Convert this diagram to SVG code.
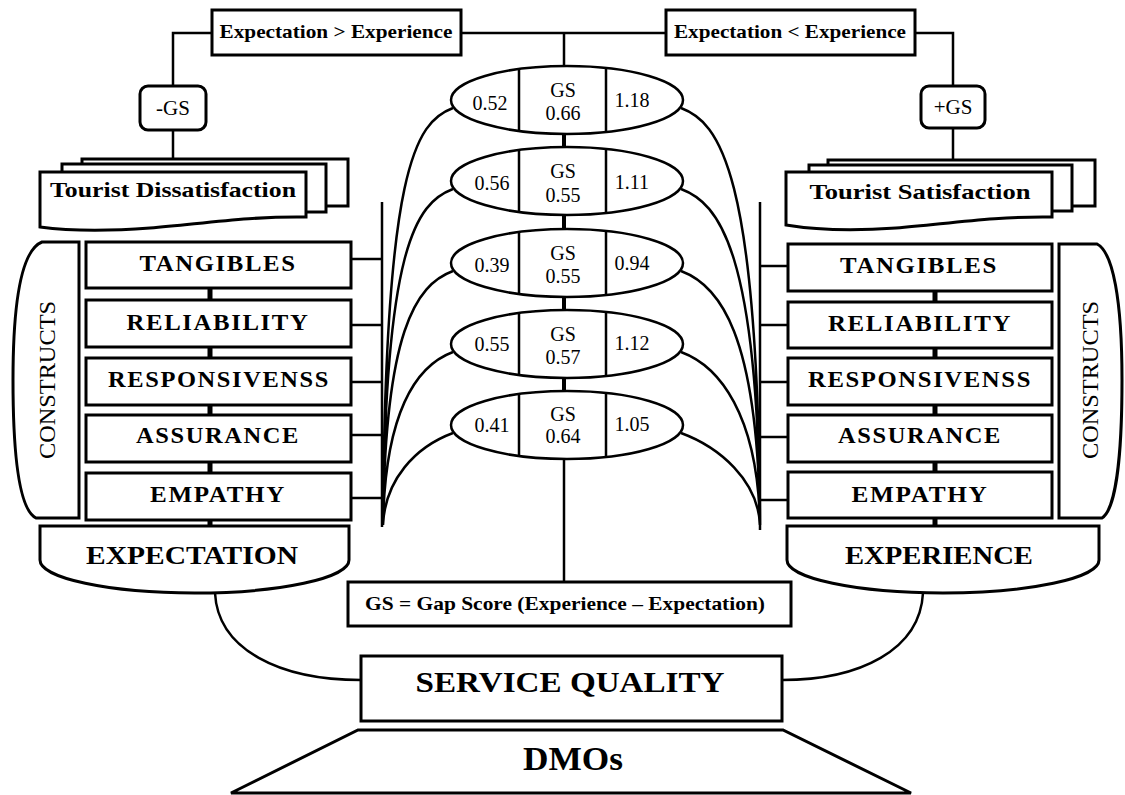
<svg xmlns="http://www.w3.org/2000/svg" width="1125" height="795" viewBox="0 0 1125 795">
<style>
.bx{fill:#fff;stroke:#000;stroke-width:3}
.ln{fill:none;stroke:#000;stroke-width:2.5}
.th{fill:none;stroke:#000;stroke-width:5}
.t{font-family:"Liberation Serif","Times New Roman",serif;fill:#000;text-anchor:middle}
.b{font-weight:bold}
.c{font-size:23px;font-weight:bold;letter-spacing:1.5px}
.e{font-size:20px}
</style>
<rect x="0" y="0" width="1125" height="795" fill="#fff"/>
<g id="connectors">
<path class="ln" d="M461,33 H666 M564,33 V66"/>
<path class="ln" d="M212,33 H173 V86 M173,130 V159"/>
<path class="ln" d="M915,33 H953 V86 M953,128 V160"/>
<path class="th" d="M564,134 V147 M564,215 V229 M564,297 V310 M564,378 V391" style="stroke-width:4"/>
<path class="ln" d="M564,459 V582"/>
<path class="ln" d="M382,202 V527 M760,202 V530"/>
<path class="ln" d="M351,259 H382 M351,325 H382 M351,382 H382 M351,435 H382 M351,498 H382"/>
<path class="ln" d="M760,266 H788 M760,325 H788 M760,382 H788 M760,437 H788 M760,500 H788"/>
<path class="ln" d="M453,108 C415,122 385,170 383,525 M453,189 C415,203 385,251 383,525 M453,271 C415,285 385,333 383,525 M453,352 C415,366 385,414 383,525 M453,433 C415,447 385,480 383,525"/>
<path class="ln" d="M681,108 C719,122 758,170 760,525 M681,189 C719,203 758,251 760,525 M681,271 C719,285 758,333 760,525 M681,352 C719,366 758,414 760,525 M681,433 C719,447 758,480 760,525"/>
<path class="th" d="M210,288 V300 M210,347 V358 M210,405 V415 M210,462 V473 M210,520 V526"/>
<path class="th" d="M935,291 V302 M935,348 V358 M935,405 V415 M935,462 V472 M935,518 V526"/>
<path class="ln" d="M215,593 C218,650 280,680 361,680"/>
<path class="ln" d="M923,593 C920,650 860,680 782,680"/>
</g>
<g id="exp-gt">
<rect class="bx" x="212" y="10" width="249" height="45"/>
<text class="t b" x="336" y="38" font-size="19" textLength="233" lengthAdjust="spacingAndGlyphs">Expectation &gt; Experience</text>
</g>
<g id="exp-lt">
<rect class="bx" x="666" y="10" width="249" height="45"/>
<text class="t b" x="790" y="38" font-size="19" textLength="232" lengthAdjust="spacingAndGlyphs">Expectation &lt; Experience</text>
</g>
<g id="neg-gs">
<rect class="bx" x="140" y="86" width="66" height="44" rx="8"/>
<text class="t" x="173" y="115" font-size="21">-GS</text>
</g>
<g id="pos-gs">
<rect class="bx" x="921" y="86" width="64" height="42" rx="8"/>
<text class="t" x="953" y="114" font-size="21">+GS</text>
</g>
<g id="dissatisfaction">
<rect class="bx" x="82" y="159" width="266" height="47"/>
<rect class="bx" x="62" y="164" width="264" height="48"/>
<path class="bx" d="M40,172 H306 V217 C250,216 200,224 150,228 C110,231 70,231 40,227 Z"/>
<text class="t b" x="173" y="197" font-size="22" textLength="246" lengthAdjust="spacingAndGlyphs">Tourist Dissatisfaction</text>
</g>
<g id="satisfaction">
<rect class="bx" x="828" y="160" width="267" height="46"/>
<rect class="bx" x="809" y="165" width="263" height="46"/>
<path class="bx" d="M786,172 H1052 V217 C996,216 946,224 896,228 C856,231 816,230 786,225 Z"/>
<text class="t b" x="920" y="199" font-size="22" textLength="221" lengthAdjust="spacingAndGlyphs">Tourist Satisfaction</text>
</g>
<g id="constructs-left">
<path class="bx" d="M79,242 H42 C22,250 13,300 13,380 C13,460 20,510 36,518 H79 Z"/>
<text class="t" transform="translate(55,380) rotate(-90)" font-size="23" textLength="158" lengthAdjust="spacingAndGlyphs">CONSTRUCTS</text>
</g>
<g id="constructs-right">
<path class="bx" d="M1059,244 H1097 C1113,252 1122,300 1122,380 C1122,460 1115,510 1102,518 H1059 Z"/>
<text class="t" transform="translate(1098,380) rotate(-90)" font-size="23" textLength="158" lengthAdjust="spacingAndGlyphs">CONSTRUCTS</text>
</g>
<g id="l-tangibles"><rect class="bx" x="86" y="242" width="265" height="46"/><text class="t c" x="218" y="271" textLength="157" lengthAdjust="spacingAndGlyphs">TANGIBLES</text></g>
<g id="l-reliability"><rect class="bx" x="86" y="300" width="265" height="47"/><text class="t c" x="218" y="330" textLength="183" lengthAdjust="spacingAndGlyphs">RELIABILITY</text></g>
<g id="l-responsiveness"><rect class="bx" x="86" y="358" width="265" height="47"/><text class="t c" x="219" y="387" textLength="222" lengthAdjust="spacingAndGlyphs">RESPONSIVENSS</text></g>
<g id="l-assurance"><rect class="bx" x="86" y="415" width="265" height="47"/><text class="t c" x="218" y="443" textLength="164" lengthAdjust="spacingAndGlyphs">ASSURANCE</text></g>
<g id="l-empathy"><rect class="bx" x="86" y="473" width="265" height="47"/><text class="t c" x="218" y="502" textLength="136" lengthAdjust="spacingAndGlyphs">EMPATHY</text></g>
<g id="r-tangibles"><rect class="bx" x="788" y="244" width="264" height="47"/><text class="t c" x="919" y="273" textLength="158" lengthAdjust="spacingAndGlyphs">TANGIBLES</text></g>
<g id="r-reliability"><rect class="bx" x="788" y="302" width="264" height="46"/><text class="t c" x="920" y="331" textLength="184" lengthAdjust="spacingAndGlyphs">RELIABILITY</text></g>
<g id="r-responsiveness"><rect class="bx" x="788" y="358" width="264" height="47"/><text class="t c" x="920" y="387" textLength="224" lengthAdjust="spacingAndGlyphs">RESPONSIVENSS</text></g>
<g id="r-assurance"><rect class="bx" x="788" y="415" width="264" height="47"/><text class="t c" x="920" y="443" textLength="164" lengthAdjust="spacingAndGlyphs">ASSURANCE</text></g>
<g id="r-empathy"><rect class="bx" x="788" y="472" width="264" height="46"/><text class="t c" x="920" y="502" textLength="137" lengthAdjust="spacingAndGlyphs">EMPATHY</text></g>
<g id="expectation">
<path class="bx" d="M40,526 H349 V560 A154.5 33 0 0 1 40,560 Z"/>
<text class="t b" x="192" y="564" font-size="25" textLength="212" lengthAdjust="spacingAndGlyphs">EXPECTATION</text>
</g>
<g id="experience">
<path class="bx" d="M787,526 H1099 V560 A156 33 0 0 1 787,560 Z"/>
<text class="t b" x="939" y="564" font-size="25" textLength="188" lengthAdjust="spacingAndGlyphs">EXPERIENCE</text>
</g>
<g id="gs-1">
<ellipse class="bx" cx="567" cy="100" rx="116" ry="34" style="stroke-width:2.5"/>
<path class="ln" d="M519,69 V131 M606,68 V132"/>
<text class="t e" x="490" y="110">0.52</text><text class="t e" x="563" y="97">GS</text><text class="t e" x="563" y="120">0.66</text><text class="t e" x="632" y="107">1.18</text>
</g>
<g id="gs-2">
<ellipse class="bx" cx="567" cy="181" rx="116" ry="34" style="stroke-width:2.5"/>
<path class="ln" d="M519,150 V212 M606,149 V213"/>
<text class="t e" x="492" y="190">0.56</text><text class="t e" x="563" y="178">GS</text><text class="t e" x="563" y="202">0.55</text><text class="t e" x="632" y="189">1.11</text>
</g>
<g id="gs-3">
<ellipse class="bx" cx="567" cy="263" rx="116" ry="34" style="stroke-width:2.5"/>
<path class="ln" d="M519,232 V294 M606,231 V295"/>
<text class="t e" x="492" y="272">0.39</text><text class="t e" x="563" y="260">GS</text><text class="t e" x="563" y="283">0.55</text><text class="t e" x="632" y="270">0.94</text>
</g>
<g id="gs-4">
<ellipse class="bx" cx="567" cy="344" rx="116" ry="34" style="stroke-width:2.5"/>
<path class="ln" d="M519,313 V375 M606,312 V376"/>
<text class="t e" x="492" y="351">0.55</text><text class="t e" x="563" y="341">GS</text><text class="t e" x="563" y="364">0.57</text><text class="t e" x="632" y="350">1.12</text>
</g>
<g id="gs-5">
<ellipse class="bx" cx="567" cy="425" rx="116" ry="34" style="stroke-width:2.5"/>
<path class="ln" d="M519,394 V456 M606,393 V457"/>
<text class="t e" x="492" y="432">0.41</text><text class="t e" x="563" y="421">GS</text><text class="t e" x="563" y="443">0.64</text><text class="t e" x="632" y="431">1.05</text>
</g>
<g id="gs-legend">
<rect class="bx" x="348" y="582" width="443" height="44"/>
<text class="t b" x="565" y="610" font-size="19" textLength="400" lengthAdjust="spacingAndGlyphs">GS = Gap Score (Experience – Expectation)</text>
</g>
<g id="service-quality">
<rect class="bx" x="361" y="656" width="421" height="65"/>
<text class="t b" x="570" y="692" font-size="30" textLength="309" lengthAdjust="spacingAndGlyphs">SERVICE QUALITY</text>
</g>
<g id="dmos">
<path class="bx" d="M358,730 H783 L911,793 H231 Z"/>
<text class="t b" x="573" y="770" font-size="33" textLength="100" lengthAdjust="spacingAndGlyphs">DMOs</text>
</g>
</svg>
